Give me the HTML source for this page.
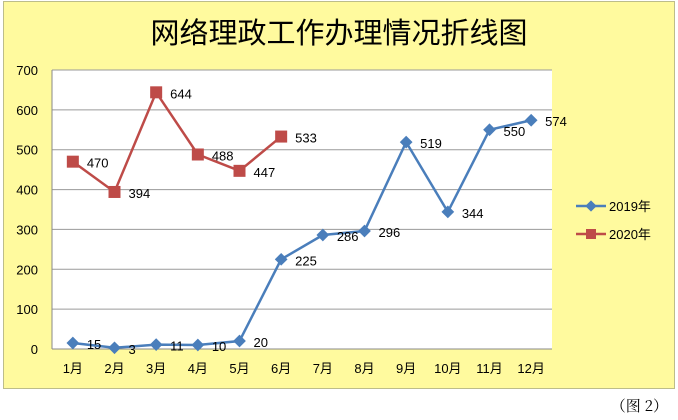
<!DOCTYPE html>
<html><head><meta charset="utf-8"><style>
body{margin:0;width:678px;height:415px;background:#fff;overflow:hidden;font-family:"Liberation Sans","Noto Sans CJK SC",sans-serif}
</style></head><body>
<svg id="c" width="678" height="415" xmlns="http://www.w3.org/2000/svg">
<rect x="3.5" y="1.5" width="671" height="387" fill="#FFFA9E" stroke="#BDBD8A"/>
<text x="339" y="43" text-anchor="middle" font-size="29" font-family="Noto Sans CJK SC, sans-serif" fill="#000">网络理政工作办理情况折线图</text>
<rect x="52" y="70" width="500" height="279" fill="#fff"/>
<g id="grid"></g><g id="axes"></g><g id="series"></g>
<g>
<line x1="576" y1="206" x2="606" y2="206" stroke="#4A7EBB" stroke-width="2.5"/>
<rect x="587" y="202" width="8" height="8" fill="#4A7EBB" transform="rotate(45 591 206)"/>
<text x="609" y="211" font-size="13">2019年</text>
<line x1="576" y1="234" x2="606" y2="234" stroke="#BE4B48" stroke-width="2.5"/>
<rect x="586" y="229" width="10" height="10" fill="#BE4B48"/>
<text x="609" y="239" font-size="13">2020年</text>
</g>
<text x="668" y="411" text-anchor="end" font-size="15" font-family="Noto Serif CJK SC, serif">（图 2）</text>
</svg>
<script>
const categories=["1月","2月","3月","4月","5月","6月","7月","8月","9月","10月","11月","12月"];
const s2019=[15,3,11,10,20,225,286,296,519,344,550,574];
const s2020=[470,394,644,488,447,533];
const yTicks=[0,100,200,300,400,500,600,700];
const NS="http://www.w3.org/2000/svg";
const x0=52,x1=552,y0=349,y1=70,ymax=700;
const bw=(x1-x0)/categories.length;
function xs(i){return x0+bw*(i+0.5);}
function ys(v){return y0-(v/ymax)*(y0-y1);}
function mk(tag,attrs,parent,txt){const e=document.createElementNS(NS,tag);for(const k in attrs)e.setAttribute(k,attrs[k]);if(txt!==undefined)e.textContent=txt;parent.appendChild(e);return e;}
const grid=document.getElementById('grid'),axes=document.getElementById('axes'),ser=document.getElementById('series');
yTicks.forEach(t=>{
 const y=ys(t);
 if(t>0){const g=mk('line',{x1:x0,x2:x1,y1:y,y2:y,stroke:'#9a9a9a','stroke-width':1},grid);
 
 }
 const l=mk('text',{x:38,y:y+5,'text-anchor':'end','font-size':13},axes,String(t));
 
 
});
const ax=mk('line',{x1:x0,x2:x1,y1:y0,y2:y0,stroke:'#888'},axes);


const ay=mk('line',{x1:x0,x2:x0,y1:y1,y2:y0,stroke:'#888'},axes);


categories.forEach((c,i)=>{
 const t=mk('text',{x:xs(i),y:y0+24,'text-anchor':'middle','font-size':13},axes,c);
 
 
});
function drawSeries(arr,color,name,square){
 const pts=arr.map((v,i)=>xs(i)+','+ys(v)).join(' ');
 const pl=mk('polyline',{points:pts,fill:'none',stroke:color,'stroke-width':2.5},ser);
 
 
 arr.forEach((v,i)=>{
  const x=xs(i),y=ys(v);let m;
  if(square)m=mk('rect',{x:x-6,y:y-6,width:12,height:12,fill:color},ser);
  else m=mk('rect',{x:x-4.5,y:y-4.5,width:9,height:9,fill:color,transform:'rotate(45 '+x+' '+y+')'},ser);
  
  
  const t=mk('text',{x:x+14,y:y+6,'font-size':13},ser,String(v));
  
  
 });
}
drawSeries(s2019,'#4A7EBB','series-2019',false);
drawSeries(s2020,'#BE4B48','series-2020',true);
</script>
</body></html>
